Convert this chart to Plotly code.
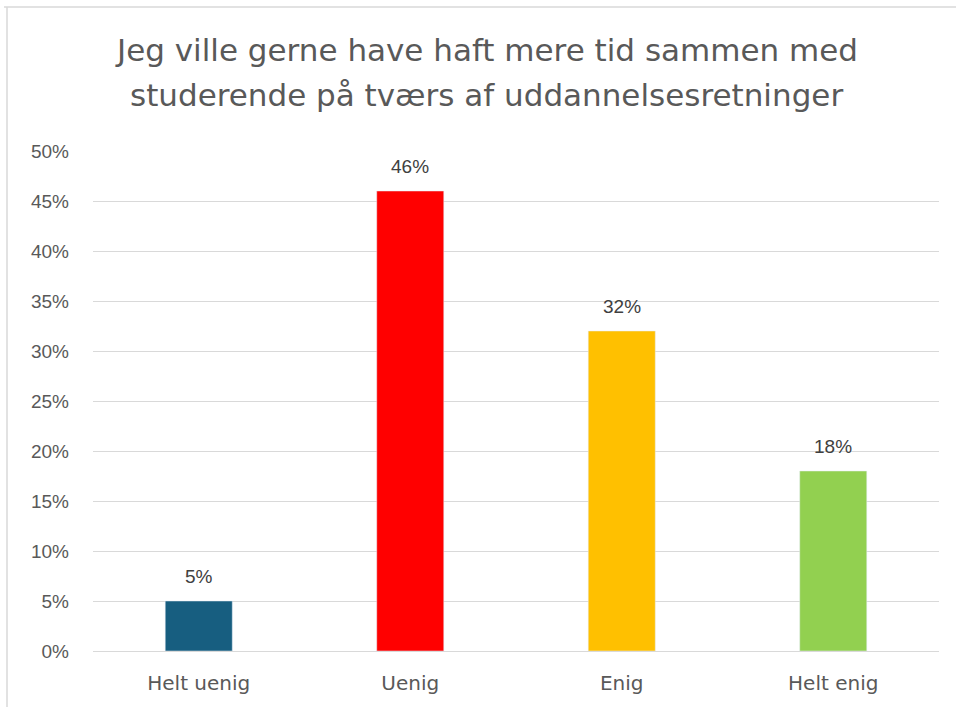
import plotly.graph_objects as go

categories = ["Helt uenig", "Uenig", "Enig", "Helt enig"]
values = [0.05, 0.46, 0.32, 0.18]
colors = ["#175E80", "#FF0000", "#FFC000", "#92D050"]
tick_vals = [0, 0.05, 0.10, 0.15, 0.20, 0.25, 0.30, 0.35, 0.40, 0.45, 0.50]
tick_text = ["0%", "5%", "10%", "15%", "20%", "25%", "30%", "35%", "40%", "45%", "50%"]
title_lines = ["Jeg ville gerne have haft mere tid sammen med",
               "studerende på tværs af uddannelsesretninger"]

W, H = 956, 707
L, R, T, B = 93, 17, 151, 56
pw, ph = W - L - R, H - T - B
def px(x): return (x - L) / pw
def py(y): return (H - B - y) / ph

fig = go.Figure(go.Bar(x=categories, y=values, marker_color=colors, hoverinfo="x+y"))

annotations = [
    dict(x=c, y=v, xref="x", yref="y", text=f"{v:.0%}", showarrow=False,
         yanchor="bottom", yshift=12,
         font=dict(size=19, color="#404040", family="Liberation Sans, Arial, sans-serif"))
    for c, v in zip(categories, values)
]
for line, yc in zip(title_lines, [50, 95]):
    annotations.append(dict(
        x=px(486), y=py(yc), xref="paper", yref="paper", text=line, showarrow=False,
        xanchor="center", yanchor="middle", align="center",
        font=dict(size=31, color="#595959", family="DejaVu Sans, sans-serif"),
    ))

fig.update_layout(
    width=W, height=H,
    margin=dict(l=L, r=R, t=T, b=B),
    paper_bgcolor="white", plot_bgcolor="white",
    bargap=0.683,
    showlegend=False,
    annotations=annotations,
    xaxis=dict(showline=False, showgrid=False, ticks="", ticklabelstandoff=18,
               tickfont=dict(size=20, color="#595959", family="DejaVu Sans, sans-serif")),
    yaxis=dict(range=[0, 0.5], tickvals=tick_vals, ticktext=tick_text,
               showgrid=True, gridcolor="#D9D9D9", gridwidth=1,
               zeroline=True, zerolinecolor="#D9D9D9", zerolinewidth=1,
               showline=False, ticks="", ticklabelstandoff=23,
               tickfont=dict(size=19, color="#595959", family="Liberation Sans, Arial, sans-serif")),
    shapes=[
        dict(type="line", xref="paper", yref="paper", x0=px(7), x1=px(7), y0=py(7), y1=py(720),
             line=dict(color="#D9D9D9", width=1.5)),
        dict(type="line", xref="paper", yref="paper", x0=px(4), x1=px(970), y0=py(7), y1=py(7),
             line=dict(color="#D9D9D9", width=1.5)),
    ],
)

fig.write_html("out.html", config={"displayModeBar": False},
               post_script="document.body.style.margin='0';document.body.style.overflow='hidden';")
